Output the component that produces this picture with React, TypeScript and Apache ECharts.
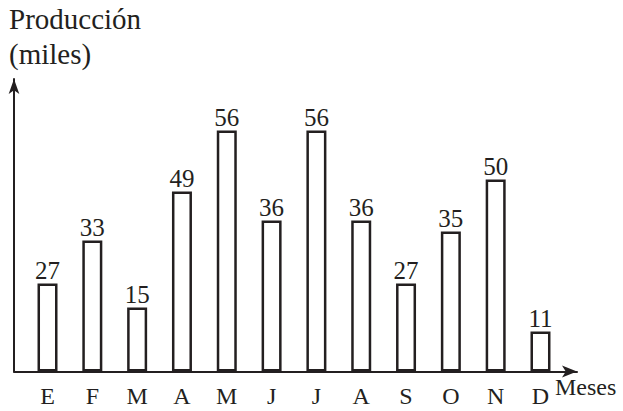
import React, { useEffect, useRef } from "react";
import * as echarts from "echarts";

const months = ["E", "F", "M", "A", "M", "J", "J", "A", "S", "O", "N", "D"];
const labels = [27, 33, 15, 49, 56, 36, 56, 36, 27, 35, 50, 11];
// drawn bar heights (not proportional to the labels)
const heights = [88, 131, 64, 180, 241, 151, 241, 151, 88, 140, 192, 40];

const INK = "#231f20";
const FONT = "Liberation Serif";

export default function App() {
  const ref = useRef<HTMLDivElement>(null);
  useEffect(() => {
    if (!ref.current) return;
    const chart = echarts.init(ref.current, null, { renderer: "svg" });
    chart.setOption({
      animation: false,
      backgroundColor: "#ffffff",
      title: {
        text: "Producción\n(miles)",
        left: 4,
        top: -4,
        textStyle: { fontFamily: FONT, fontSize: 29, fontWeight: "normal", color: INK, lineHeight: 35 },
      },
      grid: [
        { left: 14, right: 46, top: 79, bottom: 39.5 },
        { left: 25.1, right: 60.1, top: 79, bottom: 39.5 },
      ],
      xAxis: [
        {
          gridIndex: 0,
          type: "value",
          min: 0,
          max: 1,
          splitLine: { show: false },
          axisTick: { show: false },
          axisLabel: { show: false },
          axisLine: {
            show: true,
            symbol: ["none", "arrow"],
            symbolSize: [9, 15],
            lineStyle: { color: INK, width: 2 },
          },
        },
        {
          gridIndex: 1,
          type: "category",
          data: months,
          axisLine: { show: false },
          axisTick: { show: false },
          axisLabel: { fontFamily: FONT, fontSize: 24, color: INK, margin: 12 },
        },
      ],
      yAxis: [
        {
          gridIndex: 0,
          type: "value",
          min: 0,
          max: 1,
          splitLine: { show: false },
          axisTick: { show: false },
          axisLabel: { show: false },
          axisLine: {
            show: true,
            symbol: ["none", "arrow"],
            symbolSize: [8, 15],
            lineStyle: { color: INK, width: 2 },
          },
        },
        {
          gridIndex: 1,
          type: "value",
          min: 0,
          max: 292.5,
          show: false,
        },
      ],
      graphic: [
        {
          type: "text",
          left: 555,
          top: 375,
          style: { text: "Meses", fontFamily: FONT, fontSize: 24, fill: INK },
        },
      ],
      series: [
        {
          type: "bar",
          xAxisIndex: 1,
          yAxisIndex: 1,
          data: heights,
          barWidth: 20,
          itemStyle: { color: "#ffffff", borderColor: INK, borderWidth: 2.5 },
          label: {
            show: true,
            position: "top",
            distance: 1,
            fontFamily: FONT,
            fontSize: 25,
            color: INK,
            formatter: (p: any) => String(labels[p.dataIndex]),
          },
        },
      ],
    });
    return () => chart.dispose();
  }, []);
  return (
    <div
      ref={ref}
      style={{ position: "fixed", left: 0, top: 0, width: 623, height: 411 }}
    />
  );
}
